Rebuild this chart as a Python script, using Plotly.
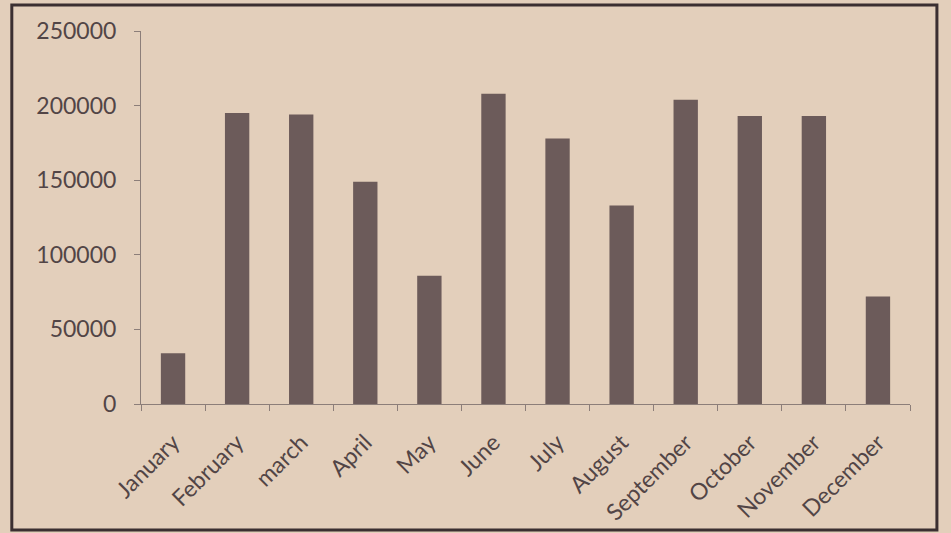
import plotly.graph_objects as go

months = ["January", "February", "march", "April", "May", "June", "July",
          "August", "September", "October", "November", "December"]
values = [34000, 195000, 194000, 149000, 86000, 208000, 178000,
          133000, 204000, 193000, 193000, 72000]
y_ticks = [0, 50000, 100000, 150000, 200000, 250000]

paper_bg = "#e3cfbb"
bar_col = "#6c5b5a"
text_col = "#524546"
axis_col = "#8c7e79"

fig = go.Figure(go.Bar(x=months, y=values, marker=dict(color=bar_col, line=dict(width=0)),
                       width=0.38))

fig.update_layout(
    width=951, height=533,
    margin=dict(l=141, r=41, t=31, b=129, autoexpand=False),
    paper_bgcolor=paper_bg, plot_bgcolor=paper_bg,
    showlegend=False,
    font=dict(family="Lato, 'Open Sans', sans-serif", color=text_col, size=22),
    xaxis=dict(
        tickangle=-45, tickfont=dict(size=23, color=text_col),
        showline=True, linecolor=axis_col, linewidth=1,
        ticks="outside", ticklen=6, tickcolor=axis_col, tickson="boundaries",
        showgrid=False, zeroline=False, ticklabelstandoff=15, automargin=False,
    ),
    yaxis=dict(
        range=[0, 250000], tickvals=y_ticks, ticktext=[str(v) for v in y_ticks],
        tickfont=dict(size=23, color=text_col),
        showline=True, linecolor=axis_col, linewidth=1,
        ticks="outside", ticklen=6, tickcolor=axis_col,
        showgrid=False, zeroline=False, ticklabelstandoff=13, automargin=False,
    ),
    shapes=[dict(type="rect", xref="paper", yref="paper",
                 x0=-0.168, x1=1.035, y0=-0.3378, y1=1.0697,
                 line=dict(color="#3b2f31", width=3), layer="above")],
)

fig.write_html("out.html", config={"displayModeBar": False},
               post_script="document.body.style.margin='0';document.body.style.overflow='hidden';")
